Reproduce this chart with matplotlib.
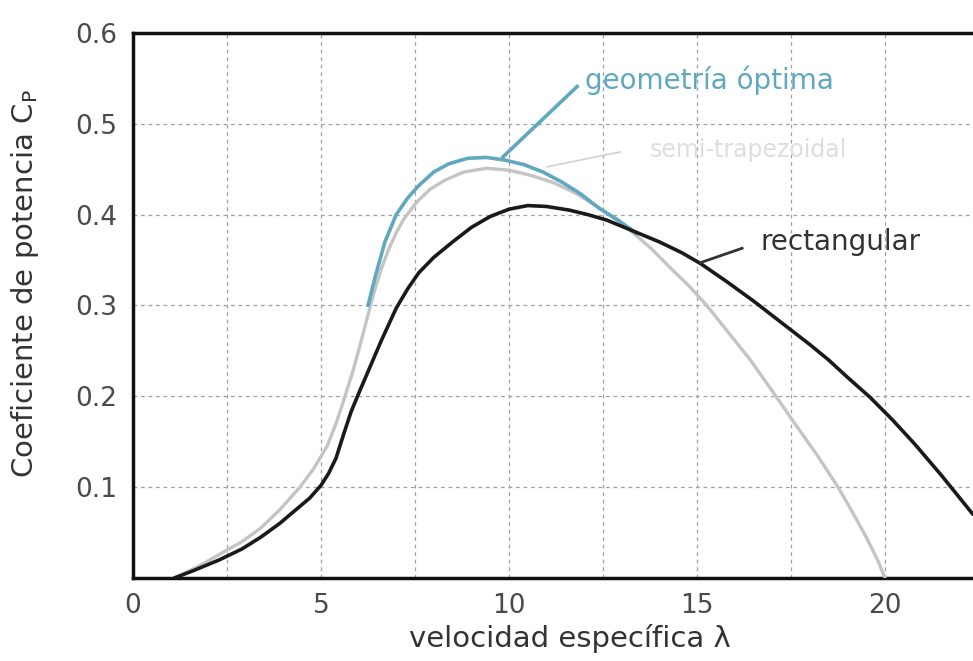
import numpy as np
import matplotlib
matplotlib.use('Agg')
import matplotlib.pyplot as plt

# valores (lambda, Cp)
lam_rect = [1.1, 1.6, 2.3, 2.9, 3.4, 3.9, 4.3, 4.7, 5.0, 5.2, 5.4, 5.6, 5.8, 6.0, 6.3, 6.6,
            7.0, 7.3, 7.6, 8.0, 8.5, 9.0, 9.5, 10.0, 10.5, 11.0, 11.6, 12.1, 12.6, 13.3,
            14.0, 14.6, 15.1, 15.8, 16.5, 17.0, 17.5, 18.0, 18.5, 19.0, 19.6, 20.2, 20.8,
            21.5, 22.34]
cp_rect = [0.0, 0.008, 0.02, 0.032, 0.045, 0.06, 0.074, 0.088, 0.102, 0.115, 0.132, 0.158,
           0.183, 0.203, 0.232, 0.261, 0.297, 0.318, 0.336, 0.353, 0.37, 0.386, 0.398, 0.406,
           0.41, 0.409, 0.405, 0.40, 0.394, 0.382, 0.370, 0.358, 0.346, 0.326, 0.305, 0.289,
           0.273, 0.257, 0.24, 0.221, 0.199, 0.174, 0.147, 0.113, 0.07]

lam_trap = [1.1, 1.7, 2.3, 2.9, 3.4, 3.9, 4.44, 4.8, 5.16, 5.4, 5.6, 5.85, 6.05, 6.22, 6.4,
            6.6, 6.8, 7.0, 7.2, 7.55, 7.9, 8.3, 8.8, 9.4, 10.0, 10.6, 11.2, 11.8, 12.3, 12.8,
            13.3, 13.8, 14.3, 14.8, 15.26, 15.8, 16.4, 17.1, 17.6, 18.2, 18.75, 19.1, 19.5,
            19.8, 20.0]
cp_trap = [0.0, 0.012, 0.026, 0.04, 0.055, 0.075, 0.10, 0.12, 0.145, 0.17, 0.195, 0.228,
           0.258, 0.285, 0.313, 0.34, 0.362, 0.38, 0.395, 0.414, 0.428, 0.438, 0.447,
           0.451, 0.449, 0.443, 0.435, 0.423, 0.41, 0.396, 0.38, 0.362, 0.341, 0.321, 0.30,
           0.272, 0.241, 0.20, 0.17, 0.135, 0.10, 0.075, 0.045, 0.02, 0.0]

lam_opt = [6.25, 6.45, 6.7, 7.0, 7.3, 7.6, 8.0, 8.4, 8.9, 9.4, 9.9, 10.4, 10.9, 11.4,
           11.9, 12.4, 12.9, 13.4]
cp_opt = [0.30, 0.333, 0.37, 0.40, 0.418, 0.432, 0.447, 0.456, 0.462, 0.463, 0.46, 0.455,
          0.447, 0.436, 0.423, 0.407, 0.394, 0.379]

xticks = [0, 5, 10, 15, 20]
yticks = [0.1, 0.2, 0.3, 0.4, 0.5, 0.6]

fig = plt.figure(figsize=(9.73, 6.61), dpi=100)
ax = fig.add_axes([0.1367, 0.1256, 0.8633, 0.8245])

ax.set_xlim(0, 22.34)
ax.set_ylim(0, 0.6)
ax.set_xticks(xticks)
ax.set_xticks(np.arange(2.5, 22.5, 5), minor=True)
ax.set_yticks(yticks)
ax.grid(True, which='both', color='#a0a0a0', linestyle=(0, (3, 3)), linewidth=0.9)
ax.set_xticklabels([str(t) for t in xticks])
ax.set_yticklabels(['%.1f' % t for t in yticks])
ax.tick_params(which='both', length=0, labelsize=19, labelcolor='#4a4a4a', pad=11)

for s in ['left', 'bottom', 'top']:
    ax.spines[s].set_linewidth(2.5)
    ax.spines[s].set_color('#111111')
ax.spines['right'].set_visible(False)

ax.plot(lam_trap, cp_trap, color='#c4c4c4', lw=2.4, solid_capstyle='round', solid_joinstyle='round', zorder=3)
ax.plot(lam_opt, cp_opt, color='#5fa8c0', lw=2.6, solid_capstyle='round', solid_joinstyle='round', zorder=4)
ax.plot(lam_rect, cp_rect, color='#1a1a1a', lw=2.6, solid_capstyle='round', solid_joinstyle='round', zorder=5)

# etiquetas de las curvas
ax.plot([9.84, 11.81], [0.4636, 0.541], color='#5fa8c0', lw=2.6, zorder=4)
ax.text(12.02, 0.548, 'geometría óptima', color='#5fa8c0', fontsize=20, va='center', ha='left')

ax.plot([11.01, 12.95], [0.4526, 0.469], color='#d0d0d0', lw=1.2, zorder=3)
ax.text(13.75, 0.471, 'semi-trapezoidal', color='#dedede', fontsize=17, va='center', ha='left')

ax.plot([15.08, 16.2], [0.347, 0.363], color='#333333', lw=2.0, zorder=5)
ax.text(16.68, 0.370, 'rectangular', color='#333333', fontsize=20, va='center', ha='left')

ax.set_xlabel('velocidad específica λ', fontsize=21, color='#333333')
ax.xaxis.set_label_coords(0.52, -0.084)
ax.xaxis.label.set_va('top')
ax.set_ylabel('Coeficiente de potencia C$_\\mathrm{P}$', fontsize=21, color='#333333')
ax.yaxis.set_label_coords(-0.11, 0.54)

plt.savefig('out.png', dpi=100)
